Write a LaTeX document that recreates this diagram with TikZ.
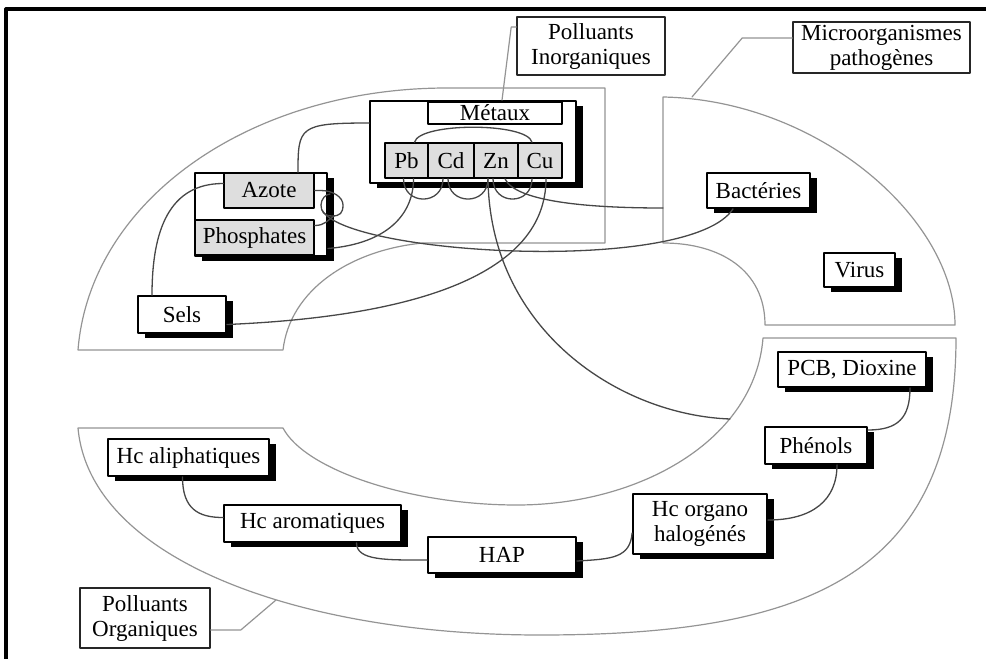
\documentclass[tikz,border=0pt]{standalone}
\usepackage{fontspec}
\setmainfont{Liberation Serif}
\usetikzlibrary{shadows}

\begin{document}
\begin{tikzpicture}[x=0.5pt,y=-0.5pt,line join=round,line cap=round,
  zone/.style={draw=black!42,line width=0.6pt},
  conn/.style={draw=black!72,line width=0.65pt},
  lbl/.style={draw=black!85,fill=white,line width=0.8pt,inner sep=1pt,align=center,font=\fontsize{11.5}{12.5}\selectfont},
  box/.style={draw,fill=white,line width=0.9pt,inner sep=0pt,align=center,font=\fontsize{11.5}{12.5}\selectfont,
    drop shadow={opacity=1,fill=black,shadow xshift=3.5pt,shadow yshift=-2.5pt}},
  cell/.style={draw,fill=black!13,line width=0.8pt,inner sep=0pt,font=\fontsize{11.5}{12.5}\selectfont},
  headcell/.style={cell,fill=white}]
  \useasboundingbox (0,0) rectangle (986,659);

  % frame
  \draw[line width=1.6pt] (6,659) -- (6,9) -- (986,9);

  % the three zones
  \draw[zone] (78,350) -- (283,350) .. controls (290,290) and (350,250) .. (423,243) -- (605,243) -- (605,88) -- (447,88)
    .. controls (250,88) and (90,200) .. (78,350) -- cycle;
  \draw[zone] (663,97) .. controls (820,100) and (955,220) .. (955,325) -- (765,325)
    .. controls (765,270) and (720,243) .. (663,243) -- cycle;
  \draw[zone] (78,428) -- (283,428) .. controls (305,470) and (410,505) .. (517,505)
    .. controls (640,505) and (755,440) .. (763,338) -- (956,338)
    .. controls (956,580) and (800,635) .. (540,635) .. controls (300,635) and (90,560) .. (78,428) -- cycle;

  \coordinate (mt) at (692,97);
  \coordinate (mo) at (663,208);
  \coordinate (ot) at (276,600);
  \coordinate (oi) at (730,419);
  \coordinate (lp) at (322,210);

  % labels
  \node[lbl,minimum width=74pt,minimum height=29pt] (inorg) at (591,46) {Polluants\\Inorganiques};
  \node[lbl,minimum width=88.5pt,minimum height=25.5pt] (micro) at (881.5,47.5) {Microorganismes\\pathogènes};
  \node[lbl,minimum width=65pt,minimum height=30pt] (org) at (145,618) {Polluants\\Organiques};

  % inorganic
  \node[box,minimum width=103pt,minimum height=41pt] (metgrp) at (473,142) {};
  \node[headcell,minimum width=67pt,minimum height=11pt] (metaux) at (495,113) {Métaux};
  \node[cell,minimum width=21.5pt,minimum height=17.5pt] (pb) at (406.5,160.5) {Pb};
  \node[cell,minimum width=23pt,minimum height=17.5pt] (cd) at (451,160.5) {Cd};
  \node[cell,minimum width=22pt,minimum height=17.5pt] (zn) at (496,160.5) {Zn};
  \node[cell,minimum width=22pt,minimum height=17.5pt] (cu) at (540,160.5) {Cu};

  \node[box,minimum width=66pt,minimum height=41.5pt] (azgrp) at (261,214.5) {};
  \node[cell,minimum width=45pt,minimum height=17.5pt] (azote) at (269,190.5) {Azote};
  \node[cell,minimum width=59.5pt,minimum height=17.5pt] (phos) at (254.5,237.5) {Phosphates};
  \node[box,minimum width=44pt,minimum height=18.5pt] (sels) at (182,314.5) {Sels};

  % microorganisms
  \node[box,minimum width=51.5pt,minimum height=17.5pt] (bact) at (758.5,190.5) {Bactéries};
  \node[box,minimum width=35.5pt,minimum height=17pt] (virus) at (859.5,270) {Virus};

  % organic
  \node[box,minimum width=74pt,minimum height=17.5pt] (pcb) at (852,369.5) {PCB, Dioxine};
  \node[box,minimum width=51pt,minimum height=18.5pt] (phen) at (816,445.5) {Phénols};
  \node[box,minimum width=67pt,minimum height=30pt] (hcoh) at (700,524) {Hc organo\\halogénés};
  \node[box,minimum width=74pt,minimum height=18pt] (hap) at (502,555) {HAP};
  \node[box,minimum width=80.5pt,minimum height=18.5pt] (hcal) at (188.5,457.5) {Hc aliphatiques};
  \node[box,minimum width=88.5pt,minimum height=18.5pt] (hcar) at (312.5,523.5) {Hc aromatiques};

  % leaders
  \draw[zone] ([yshift=9.5pt]inorg.west) -- +(-5,0) -- ([xshift=14.5pt]metgrp.north);
  \draw[zone] ([yshift=4.75pt]micro.west) -- +(-50,0) -- (mt);
  \draw[zone] ([yshift=-6pt]org.east) -- +(30,0) -- (ot);

  % links between the metals
  \draw[conn] ([xshift=4pt]pb.north) .. controls +(5,-20) and +(-5,-20) .. ([xshift=-4pt]cu.north);
  \draw[conn] ([xshift=-1.5pt]pb.south) .. controls +(0,27) and +(0,27) .. ([xshift=-4pt]cd.south);
  \draw[conn] ([xshift=-1.5pt]cd.south) .. controls +(0,27) and +(0,27) .. ([xshift=-4pt]zn.south);
  \draw[conn] ([xshift=-1.5pt]zn.south) .. controls +(0,27) and +(0,27) .. ([xshift=-4pt]cu.south);

  % inorganic links
  \draw[conn] ([yshift=9.5pt]metgrp.west) .. controls +(-70,0) and +(0,-45) .. ([xshift=18.5pt]azgrp.north);
  \draw[conn] ([yshift=3.5pt]azote.west) .. controls +(-54,0) and +(0,-65) .. ([xshift=-15pt]sels.north);
  \draw[conn] ([yshift=-5pt]sels.east) .. controls +(190,-8) and +(0,95) .. ([xshift=3pt]cu.south);
  \draw[conn] ([yshift=-17pt]azgrp.east) .. controls +(60,-5) and +(0,35) .. ([xshift=3.5pt]pb.south);
  \draw[conn] (azote.east) -- +(6,0) .. controls +(12,0) and +(0,-8) .. (343,205) .. controls +(0,8) and +(8,0) .. (332,216)
    .. controls +(-8,0) and +(0,6) .. (321,205) .. controls +(0,-6) and +(-4,0) .. (330,194);
  \draw[conn] ([yshift=6pt]phos.east) .. controls +(10,0) and +(-6,4) .. (334,216);
  \draw[conn] (lp) .. controls (345,255) and (690,275) .. ([xshift=-12.75pt]bact.south);
  \draw[conn] ([xshift=4.5pt]zn.south) .. controls +(10,22) and +(-80,0) .. (mo);
  \draw[conn] ([xshift=-4pt]zn.south) .. controls +(2,152) and +(-110,-4) .. (oi);

  % organic links
  \draw[conn] ([xshift=-3pt]hcal.south) .. controls +(0,32) and +(-25,0) .. ([yshift=3pt]hcar.west);
  \draw[conn] ([xshift=22pt]hcar.south) .. controls +(0,18) and +(-40,0) .. ([yshift=-2.5pt]hap.west);
  \draw[conn] ([yshift=-3pt]hap.east) .. controls +(35,-2) and +(-2,25) .. ([yshift=-4.5pt]hcoh.west);
  \draw[conn] ([yshift=2pt]hcoh.east) .. controls +(45,0) and +(0,35) .. ([xshift=10.5pt]phen.south);
  \draw[conn] ([yshift=7.75pt]phen.east) .. controls +(30,0) and +(0,30) .. ([xshift=29pt]pcb.south);
\end{tikzpicture}
\end{document}
